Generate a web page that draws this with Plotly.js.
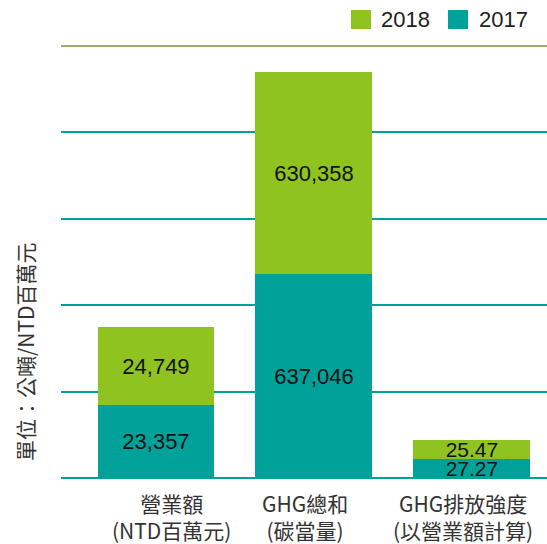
<!DOCTYPE html>
<html>
<head>
<meta charset="utf-8">
<script src="https://cdn.plot.ly/plotly-3.0.1.min.js"></script>
<style>html,body{margin:0;padding:0;background:#fff;}#chart{width:547px;height:544px;}</style>
</head>
<body>
<div id="chart"></div>
<script>
// Categories (two-line labels)
const categories = ['營業額<br>(NTD百萬元)', 'GHG總和<br>(碳當量)', 'GHG排放強度<br>(以營業額計算)'];
const categoryKeys = ['營業額', 'GHG總和', 'GHG排放強度'];
// Values printed on the bars
const labels2017 = ['23,357', '637,046', '27.27'];
const labels2018 = ['24,749', '630,358', '25.47'];
const heights2017 = [228000, 637046, 59000];
const heights2018 = [244000, 630358, 59000];
const seriesNames = ['2017', '2018'];
const yAxisTitle = '單位：公噸/NTD百萬元';

const GREEN = '#8FC31F';
const TEAL = '#00A199';
const OLIVE = '#A3AA6E';
const numFont = {family: 'Liberation Sans, Arial, sans-serif', size: [22, 22, 21], color: '#111'};
const cjkFont = {family: 'Noto Sans CJK TC, sans-serif', size: 21, color: '#333'};

const common = {
  type: 'bar', x: categoryKeys, width: 0.74,
  textposition: 'inside', insidetextanchor: 'middle', textangle: 0,
  constraintext: 'none', texttemplate: '%{text}',
  insidetextfont: numFont, showlegend: false, hoverinfo: 'skip'
};
const traces = [
  Object.assign({}, common, {name: seriesNames[0], y: heights2017, text: labels2017, marker: {color: TEAL, line: {width: 0}}}),
  Object.assign({}, common, {name: seriesNames[1], y: heights2018, text: labels2018, marker: {color: GREEN, line: {width: 0}}})
];

const labelShift = [15.5, -9, -9];
const annotations = categoryKeys.map((k, i) => ({
  x: k, xref: 'x', y: 0, yref: 'paper', yanchor: 'middle', xanchor: 'center',
  yshift: -38.5, xshift: labelShift[i], showarrow: false,
  text: categories[i], font: cjkFont, align: 'center'
}));
annotations.push({
  x: 0, xref: 'paper', xshift: -36, y: 0, yref: 'paper', yshift: 126,
  xanchor: 'center', yanchor: 'middle', textangle: -90, showarrow: false,
  text: yAxisTitle, font: {family: 'Noto Sans CJK TC, sans-serif', size: 21, color: '#333'}
});
// manual legend
annotations.push({x: 0.6543, xref: 'paper', y: 1.0602, yref: 'paper', xanchor: 'left', yanchor: 'middle',
  showarrow: false, text: seriesNames[1], font: {family: 'Liberation Sans, Arial, sans-serif', size: 22, color: '#222'}});
annotations.push({x: 0.8560, xref: 'paper', y: 1.0602, yref: 'paper', xanchor: 'left', yanchor: 'middle',
  showarrow: false, text: seriesNames[0], font: {family: 'Liberation Sans, Arial, sans-serif', size: 22, color: '#222'}});

const shapes = [
  {type: 'line', xref: 'paper', yref: 'paper', x0: 0, x1: 1, y0: 1, y1: 1, line: {color: OLIVE, width: 2}, layer: 'above'},
  {type: 'rect', xref: 'paper', yref: 'paper', x0: 0.5967, x1: 0.6379, y0: 1.0394, y1: 1.0833, fillcolor: GREEN, line: {width: 0}},
  {type: 'rect', xref: 'paper', yref: 'paper', x0: 0.7963, x1: 0.8374, y0: 1.0394, y1: 1.0833, fillcolor: TEAL, line: {width: 0}}
];

const layout = {
  width: 547, height: 544,
  margin: {l: 61, r: 0, t: 46, b: 66, pad: 0},
  paper_bgcolor: '#fff', plot_bgcolor: '#fff',
  barmode: 'stack',
  showlegend: false,
  xaxis: {type: 'category', range: [-0.601, 2.475], showticklabels: false, showgrid: false,
          zeroline: false, ticks: '', showline: false, fixedrange: true},
  yaxis: {range: [0, 1350000], dtick: 270000, tick0: 0, showticklabels: false, ticks: '',
          showgrid: true, gridcolor: TEAL, gridwidth: 2,
          zeroline: true, zerolinecolor: TEAL, zerolinewidth: 2, showline: false, fixedrange: true},
  annotations: annotations,
  shapes: shapes
};

Plotly.newPlot('chart', traces, layout, {displayModeBar: false, staticPlot: true});
</script>
</body>
</html>
